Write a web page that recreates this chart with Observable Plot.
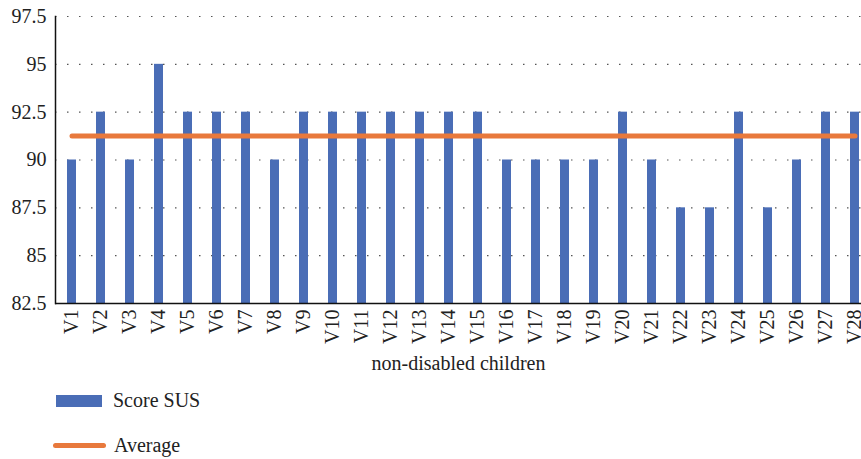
<!DOCTYPE html>
<html>
<head>
<meta charset="utf-8">
<script src="https://cdn.jsdelivr.net/npm/d3@7"></script>
<script src="https://cdn.jsdelivr.net/npm/@observablehq/plot@0.6"></script>
<style>
  html, body { margin: 0; padding: 0; background: #fff; }
  body { width: 861px; height: 459px; overflow: hidden; font-family: "Liberation Serif", "DejaVu Serif", serif; }
  #chart svg text { font-family: "Liberation Serif", serif !important; font-size: 20px !important; fill: #222; }
  #legend { position: relative; height: 84px; font-size: 20px; color: #222; font-family: "Liberation Serif", serif; }
  .item { position: absolute; left: 53px; display: flex; align-items: center; }
  .sw-bar { width: 46px; height: 12px; background: #4a6db6; margin-left: 3px; }
  .sw-line { width: 53px; height: 5px; border-radius: 3px; background: #e8793c; }
  .lbl { margin-left: 8px; }
</style>
</head>
<body>
<div id="chart"></div>
<div id="legend">
  <div class="item" style="top:14px"><div class="sw-bar"></div><span class="lbl" style="margin-left:11px">Score SUS</span></div>
  <div class="item" style="top:59px"><div class="sw-line"></div><span class="lbl">Average</span></div>
</div>
<script>
const categories = ["V1","V2","V3","V4","V5","V6","V7","V8","V9","V10","V11","V12","V13","V14","V15","V16","V17","V18","V19","V20","V21","V22","V23","V24","V25","V26","V27","V28"];
const scores = [90,92.5,90,95,92.5,92.5,92.5,90,92.5,92.5,92.5,92.5,92.5,92.5,92.5,90,90,90,90,92.5,90,87.5,87.5,92.5,87.5,90,92.5,92.5];
const average = 91.25;
const yTicks = [82.5, 85, 87.5, 90, 92.5, 95, 97.5];
const xLabel = "non-disabled children";

const data = categories.map((c, i) => ({cat: c, score: scores[i]}));
const avgData = categories.map(c => ({cat: c, avg: average}));

const chart = Plot.plot({
  width: 861,
  height: 375,
  marginLeft: 55,
  marginRight: 0,
  marginTop: 16,
  marginBottom: 72,
  style: {fontFamily: "'Liberation Serif', serif", fontSize: "20px", color: "#222", background: "#fff", overflow: "visible"},
  x: {domain: categories, range: [57, 869], paddingInner: 0.7, paddingOuter: 0.35},
  y: {domain: [yTicks[0], yTicks[yTicks.length - 1]]},
  marks: [
    Plot.gridY(yTicks.slice(1), {stroke: "#555", strokeOpacity: 1, strokeWidth: 1.2, strokeDasharray: "1.5,10.5"}),
    Plot.barY(data, {x: "cat", y1: yTicks[0], y2: "score", fill: "#4a6db6"}),
    Plot.lineY(avgData, {x: "cat", y: "avg", stroke: "#e8793c", strokeWidth: 5, strokeLinecap: "round"}),
    Plot.ruleY([yTicks[0]], {stroke: "#111", strokeWidth: 1.5}),
    Plot.frame({anchor: "left", stroke: "#111", strokeWidth: 1.5}),
    Plot.axisY(yTicks, {tickSize: 0, tickPadding: 9, tickFormat: d => String(d), label: null}),
    Plot.axisX({tickSize: 0, tickPadding: 6, tickRotate: -90, label: xLabel, labelAnchor: "center", labelArrow: "none", labelOffset: 66})
  ]
});
document.getElementById("chart").appendChild(chart);
</script>
</body>
</html>
